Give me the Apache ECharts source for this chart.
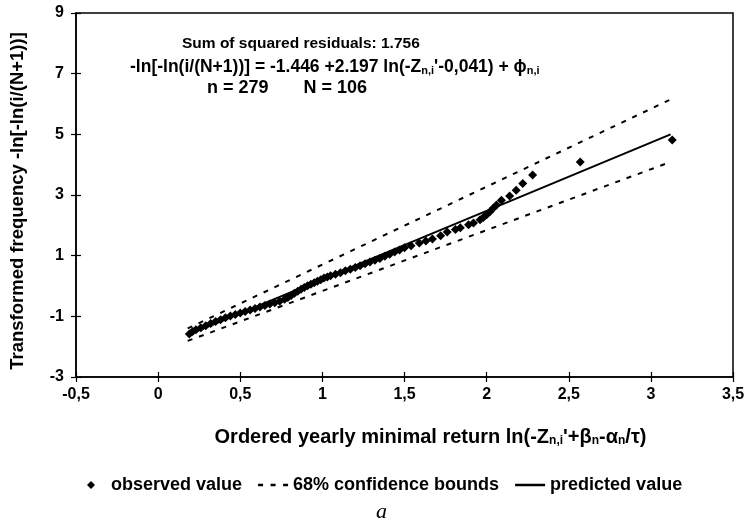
<!DOCTYPE html>
<html>
<head>
<meta charset="utf-8">
<script src="https://cdn.jsdelivr.net/npm/echarts@6/dist/echarts.min.js"></script>
<style>
  html, body { margin: 0; padding: 0; background: #fff; }
  #chart { width: 748px; height: 527px; }
</style>
</head>
<body>
<div id="chart"></div>
<script>
// observed points
const obsX = [0.19, 0.21, 0.23, 0.26, 0.29, 0.32, 0.35, 0.38, 0.41, 0.44, 0.47, 0.50, 0.53, 0.56, 0.59,
  0.62, 0.65, 0.68, 0.71, 0.74, 0.77, 0.79, 0.81, 0.83, 0.85, 0.87, 0.89, 0.91, 0.93, 0.95, 0.97, 0.99,
  1.01, 1.03, 1.05, 1.08, 1.11, 1.14, 1.17, 1.20, 1.23, 1.26, 1.29, 1.32, 1.35, 1.38, 1.41, 1.44, 1.47,
  1.50, 1.54, 1.59, 1.63, 1.67, 1.72, 1.76, 1.81, 1.84, 1.89, 1.92, 1.96, 1.98, 2.00, 2.02, 2.04, 2.06,
  2.09, 2.14, 2.18, 2.22, 2.28, 2.57, 3.13];
const obsY = [-1.58, -1.50, -1.44, -1.38, -1.31, -1.24, -1.17, -1.11, -1.05, -0.99, -0.94, -0.89, -0.84, -0.79, -0.74,
  -0.69, -0.64, -0.59, -0.55, -0.50, -0.44, -0.38, -0.31, -0.24, -0.17, -0.11, -0.05, 0.01, 0.06, 0.11, 0.16, 0.21,
  0.26, 0.30, 0.34, 0.39, 0.44, 0.50, 0.55, 0.61, 0.67, 0.73, 0.79, 0.85, 0.91, 0.98, 1.05, 1.12, 1.19,
  1.26, 1.33, 1.42, 1.48, 1.55, 1.66, 1.78, 1.86, 1.92, 2.02, 2.08, 2.18, 2.26, 2.35, 2.45, 2.56, 2.67,
  2.83, 2.97, 3.16, 3.38, 3.66, 4.09, 4.81];

// fitted line and 68% bounds
const lineX = [0.18, 3.12];
const predY = [-1.62, 5.00];
const upperY = [-1.40, 6.15];
const lowerY = [-1.81, 4.09];

const xTicks = [-0.5, 0, 0.5, 1, 1.5, 2, 2.5, 3, 3.5];
const yTicks = [-3, -1, 1, 3, 5, 7, 9];

const FONT = '"Liberation Sans", Arial, sans-serif';
const sub = { fontSize: 12, fontWeight: 'bold', fontFamily: FONT, color: '#000', verticalAlign: 'bottom' };

function pairs(xs, ys) {
  return xs.map((x, i) => [x, ys[i]]);
}

const chart = echarts.init(document.getElementById('chart'));

const labelStyle = { color: '#000', fontWeight: 'bold', fontSize: 16, fontFamily: FONT };
const tickStyle = { color: '#000', width: 1.2 };

chart.setOption({
  animation: false,
  backgroundColor: '#fff',
  grid: { left: 76, right: 15, top: 13, bottom: 150, show: true, borderColor: '#000', borderWidth: 1.5 },
  xAxis: [
    {
      type: 'value', min: -0.5, max: 3.5,
      axisLine: { onZero: false, lineStyle: { color: '#000', width: 1.5 } },
      axisTick: { customValues: xTicks, length: 5, lineStyle: tickStyle },
      axisLabel: Object.assign({ customValues: xTicks, margin: 10,
        formatter: v => String(v).replace('.', ',') }, labelStyle),
      splitLine: { show: false },
      name: 'Ordered yearly minimal return ln(-Z{s|n,i}\'+β{s|n}-α{s|n}/τ)',
      nameLocation: 'middle', nameGap: 50,
      nameTextStyle: { color: '#000', fontWeight: 'bold', fontSize: 20, fontFamily: FONT,
        padding: [0, 0, 0, 52], rich: { s: sub } }
    },
    {
      type: 'value', min: -0.5, max: 3.5, position: 'bottom',
      axisLine: { show: false, onZero: false },
      axisTick: { customValues: xTicks, inside: true, length: 5, lineStyle: tickStyle },
      axisLabel: { show: false },
      splitLine: { show: false }
    }
  ],
  yAxis: [
    {
      type: 'value', min: -3, max: 9,
      axisLine: { show: true, onZero: false, lineStyle: { color: '#000', width: 1.5 } },
      axisTick: { show: true, customValues: yTicks, length: 5, lineStyle: tickStyle },
      axisLabel: Object.assign({ customValues: yTicks, margin: 12 }, labelStyle),
      splitLine: { show: false },
      name: 'Transformed frequency -ln[-ln(i/(N+1))]',
      nameLocation: 'middle', nameGap: 49, nameRotate: 90,
      nameTextStyle: { color: '#000', fontWeight: 'bold', fontSize: 18.5, fontFamily: FONT, padding: [0, 12, 0, 0] }
    },
    {
      type: 'value', min: -3, max: 9, position: 'left',
      axisLine: { show: false, onZero: false },
      axisTick: { show: true, customValues: yTicks, inside: true, length: 5, lineStyle: tickStyle },
      axisLabel: { show: false },
      splitLine: { show: false }
    }
  ],
  legend: {
    left: 82, top: 471,
    itemWidth: 30, itemHeight: 8, itemGap: 16,
    textStyle: { color: '#000', fontWeight: 'bold', fontSize: 18, fontFamily: FONT },
    data: [
      { name: 'observed value', icon: 'path://M0,-1L1,0L0,1L-1,0Z' },
      { name: '68% confidence bounds', icon: 'path://M0,0h2v1h-2zM5,0h2v1h-2zM10,0h2v1h-2z' },
      { name: 'predicted value', icon: 'path://M0,0h12v1h-12z' }
    ]
  },
  graphic: [
    {
      type: 'text', left: 182, top: 36,
      style: { text: 'Sum of squared residuals: 1.756', fill: '#000', fontSize: 15.5, fontWeight: 'bold', fontFamily: FONT }
    },
    {
      type: 'text', left: 130, top: 58,
      style: {
        text: '-ln[-ln(i/(N+1))] = -1.446 +2.197 ln(-Z{s|n,i}\'-0,041) + ϕ{s|n,i}',
        fill: '#000', fontSize: 17.5, fontWeight: 'bold', fontFamily: FONT,
        rich: { s: { fontSize: 11, fontWeight: 'bold', fontFamily: FONT, fill: '#000', verticalAlign: 'bottom' } }
      }
    },
    {
      type: 'text', left: 207, top: 79,
      style: { text: 'n = 279       N = 106', fill: '#000', fontSize: 18, fontWeight: 'bold', fontFamily: FONT }
    },
    {
      type: 'text', left: 376, top: 501,
      style: { text: 'a', fill: '#000', fontSize: 22, fontStyle: 'italic', fontFamily: '"Liberation Serif", serif' }
    }
  ],
  series: [
    {
      name: 'observed value', type: 'scatter', symbol: 'diamond', symbolSize: 9,
      itemStyle: { color: '#000', opacity: 1 },
      data: pairs(obsX, obsY), z: 3
    },
    {
      name: '68% confidence bounds', type: 'line', symbol: 'none',
      lineStyle: { color: '#000', width: 2, type: [5, 7] }, itemStyle: { color: '#000' },
      data: pairs(lineX, upperY)
    },
    {
      name: '68% confidence bounds', type: 'line', symbol: 'none',
      lineStyle: { color: '#000', width: 2, type: [5, 7] }, itemStyle: { color: '#000' },
      data: pairs(lineX, lowerY)
    },
    {
      name: 'predicted value', type: 'line', symbol: 'none',
      lineStyle: { color: '#000', width: 2 }, itemStyle: { color: '#000' },
      data: pairs(lineX, predY)
    }
  ]
});
</script>
</body>
</html>
